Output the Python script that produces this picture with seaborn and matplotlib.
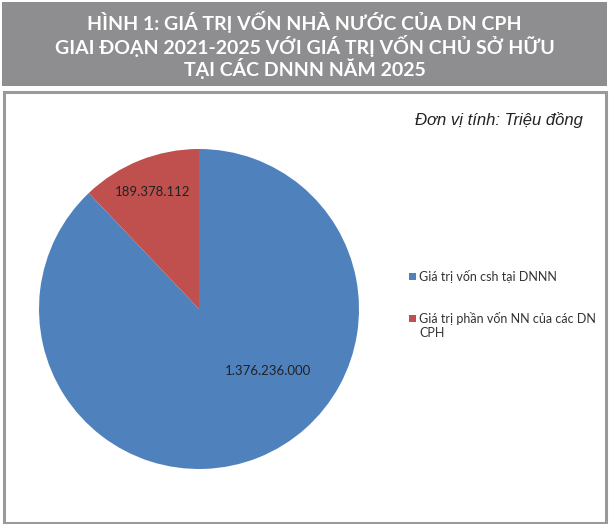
import matplotlib

matplotlib.use("Agg")
import matplotlib.pyplot as plt
from matplotlib.patches import Rectangle
import seaborn as sns

# dữ liệu
nhan = ["Giá trị vốn csh tại DNNN", "Giá trị phần vốn NN của các DN\nCPH"]
gia_tri = [1376236000, 189378112]
mau = ["#4F81BD", "#C0504D"]

tieu_de = (
    "HÌNH 1: GIÁ TRỊ VỐN NHÀ NƯỚC CỦA DN CPH\n"
    "GIAI ĐOẠN 2021-2025 VỚI GIÁ TRỊ VỐN CHỦ SỞ HỮU\n"
    "TẠI CÁC DNNN NĂM 2025"
)
don_vi = "Đơn vị tính: Triệu đồng"

sns.set_theme(style="white")
plt.rcParams["font.family"] = ["Lato", "DejaVu Sans"]

W, H = 609, 524
fig = plt.figure(figsize=(W / 100, H / 100), dpi=100)
fig.patch.set_facecolor("white")

# dải tiêu đề màu xám
fig.patches.append(
    Rectangle((2 / W, 1 - 86 / H), 605 / W, 84 / H, transform=fig.transFigure,
              facecolor="#8e8e90", edgecolor="none", zorder=0)
)
fig.text(0.5, 1 - 45 / H, tieu_de, ha="center", va="center", color="white",
         fontsize=14, fontweight="bold", linespacing=1.1,
         family=["Lato", "DejaVu Sans"])

# khung viền
fig.patches.append(
    Rectangle((3.5 / W, 1.5 / H), 602 / W, 431 / H, transform=fig.transFigure,
              facecolor="none", edgecolor="#9a9a9a", linewidth=2.2, zorder=0)
)
fig.text(583 / W, 1 - 120 / H, don_vi, ha="right", va="center", color="#222222",
         fontsize=12, style="italic", family=["Liberation Sans", "DejaVu Sans"])

ax = fig.add_axes([39 / W, 1 - 469 / H, 320 / W, 320 / H])
wedges, texts, autotexts = ax.pie(
    gia_tri,
    colors=mau,
    startangle=90,
    counterclock=False,
    autopct="%1.0f",
    pctdistance=0.79,
    textprops=dict(fontsize=9.5, color="#222222"),
    wedgeprops=dict(linewidth=0),
)
for t, v in zip(autotexts, gia_tri):
    t.set_text(f"{v:,}".replace(",", "."))
autotexts[0].set_position((0.43, -0.39))
ax.set_xlim(-1, 1)
ax.set_ylim(-1, 1)
ax.set_aspect("equal")
ax.axis("off")

leg = fig.legend(
    wedges,
    nhan,
    loc="upper left",
    bbox_to_anchor=(398 / W, 1 - 259 / H),
    frameon=False,
    fontsize=9,
    handlelength=0.5,
    handleheight=0.5,
    handletextpad=0.3,
    labelspacing=2.3,
)
for t in leg.get_texts():
    t.set_color("#333333")
# ô màu thứ hai thẳng hàng với dòng đầu của nhãn
h2 = leg.legend_handles[1]
h2.set_y(h2.get_y() + 5.2)

fig.savefig("out.png", dpi=100, facecolor="white")
